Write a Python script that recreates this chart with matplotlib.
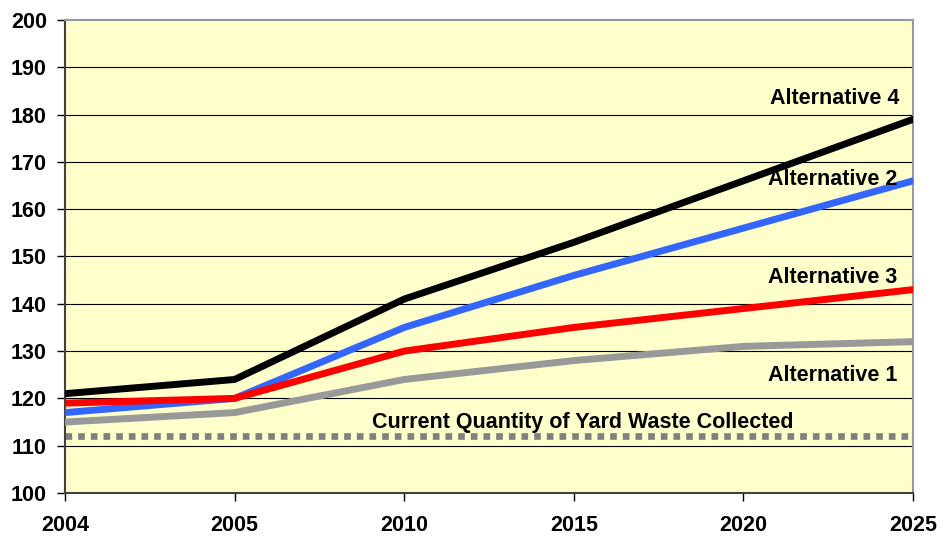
import matplotlib
matplotlib.use("Agg")
import matplotlib.pyplot as plt

years = ["2004", "2005", "2010", "2015", "2020", "2025"]
alt1 = [115, 117, 124, 128, 131, 132]
alt2 = [117, 120, 135, 146, 156, 166]
alt3 = [119, 120, 130, 135, 139, 143]
alt4 = [121, 124, 141, 153, 166, 179]
current = [112, 112, 112, 112, 112, 112]

plt.rcParams['font.family'] = ['Liberation Sans', 'DejaVu Sans']
plt.rcParams['font.weight'] = 'bold'

fig = plt.figure(figsize=(9.52, 5.37), dpi=100)
ax = fig.add_axes([65/952, 1-493/537, (913-65)/952, (493-20)/537])
ax.set_facecolor('#FFFFCC')
x = list(range(len(years)))

for v in range(110, 200, 10):
    ax.axhline(v, color='black', lw=0.8, zorder=1)

ax.plot(x, current, color='#808080', lw=4.8, linestyle=(0, (1.0, 0.9)), zorder=2,
        solid_capstyle='butt', dash_capstyle='butt')
ax.plot(x, alt1, color='#999999', lw=5, zorder=3, solid_joinstyle='miter')
ax.plot(x, alt2, color='#3366FF', lw=5, zorder=4, solid_joinstyle='miter')
ax.plot(x, alt3, color='#FF0000', lw=5, zorder=5, solid_joinstyle='miter')
ax.plot(x, alt4, color='#000000', lw=5, zorder=6, solid_joinstyle='miter')

ax.set_xlim(0, len(years)-1)
ax.set_ylim(100, 200)
ax.set_xticks(x)
ax.set_xticklabels(years)
ax.set_yticks(range(100, 201, 10))
ax.tick_params(axis='both', labelsize=15.5, colors='black', length=6, width=1)
ax.tick_params(axis='x', pad=10)
ax.tick_params(axis='y', pad=7)
for lab in ax.get_xticklabels() + ax.get_yticklabels():
    lab.set_fontweight('bold')

ax.spines['left'].set_color('#404040')
ax.spines['bottom'].set_color('#404040')
ax.spines['top'].set_color('#999999')
ax.spines['right'].set_color('#999999')
for s in ax.spines.values():
    s.set_linewidth(1.5)

kw = dict(fontsize=15.5, fontweight='bold', ha='right', va='center', zorder=7)
ax.text(4.92, 183.5, "Alternative 4", **kw)
ax.text(4.91, 166.3, "Alternative 2", **kw)
ax.text(4.91, 145.5, "Alternative 3", **kw)
ax.text(4.91, 124.9, "Alternative 1", **kw)
ax.text(3.05, 114.8, "Current Quantity of Yard Waste Collected", fontsize=15.5,
        fontweight='bold', ha='center', va='center', zorder=7)

fig.savefig("out.png", dpi=100)
